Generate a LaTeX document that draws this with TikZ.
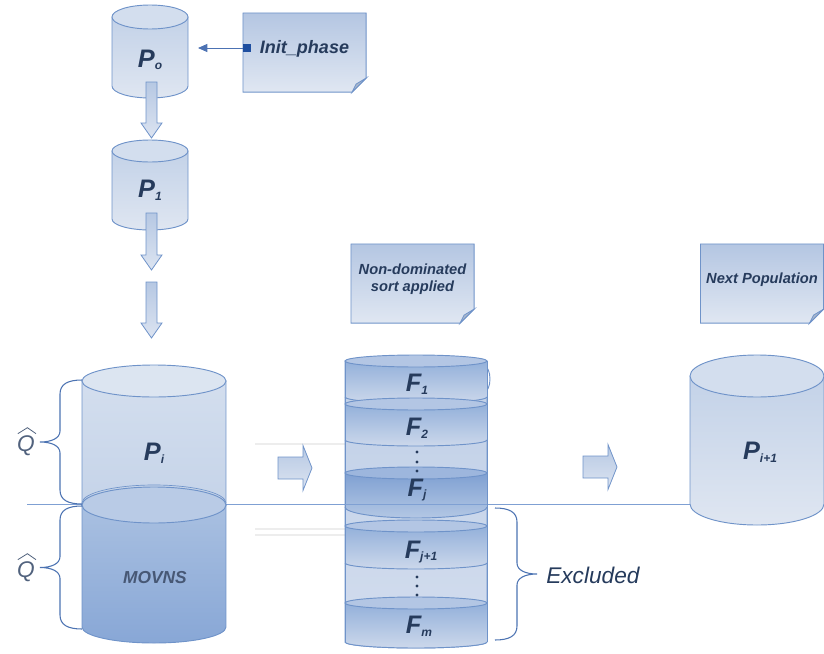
\documentclass[tikz,border=0pt]{standalone}
\usepackage{amsmath}
\usepackage{fontspec}
\setmainfont{Liberation Sans}
\usetikzlibrary{calc,arrows.meta}

\definecolor{edgeblue}{HTML}{6F93C9}
\definecolor{inkblue}{HTML}{263B5C}
\definecolor{lineblue}{HTML}{7FA0D3}
\definecolor{markblue}{HTML}{1F4FA0}
\definecolor{braceblue}{HTML}{4C73B2}
\definecolor{cylA}{HTML}{C3D2E8}
\definecolor{cylB}{HTML}{DFE6F1}
\definecolor{cylE}{HTML}{D3DEEE}
\definecolor{movA}{HTML}{A9C0E1}
\definecolor{movB}{HTML}{88A7D6}
\definecolor{movE}{HTML}{B9CBE6}
\definecolor{colA}{HTML}{BFCFE7}
\definecolor{colB}{HTML}{D3DDEE}
\definecolor{bandA}{HTML}{93B0DA}
\definecolor{bandB}{HTML}{CCD8EB}
\definecolor{bandE}{HTML}{B3C6E4}
\definecolor{darkA}{HTML}{7FA0D2}
\definecolor{darkB}{HTML}{B3C7E4}
\definecolor{darkE}{HTML}{9DB6DD}
\definecolor{arrA}{HTML}{B6C8E3}
\definecolor{arrB}{HTML}{DCE4F1}
\definecolor{noteA}{HTML}{B4C6E2}
\definecolor{noteB}{HTML}{E0E7F2}
\definecolor{foldgray}{HTML}{A9B7CC}

\newcommand{\sub}[1]{\raisebox{-0.2ex}{\fontsize{9}{9}\selectfont #1}}

% x, top y, bottom y, x radius, y radius, top colour, bottom colour, lid colour
\newcommand{\cyl}[8]{%
  \shade[top color=#6,bottom color=#7,draw=edgeblue,line width=0.7pt]
    ({#1-#4},#2) -- ({#1-#4},#3) arc (180:360:#4 and #5) -- ({#1+#4},#2) -- cycle;
  \draw[edgeblue,line width=0.7pt,fill=#8] (#1,#2) ellipse (#4 and #5);}

% x, top y, tip y
\newcommand{\darr}[3]{%
  \shade[top color=arrA,bottom color=arrB,draw=edgeblue,line width=0.6pt]
    ({#1-5.5},#2) -- ({#1-5.5},{#3+15}) -- ({#1-10.5},{#3+15}) -- (#1,#3)
    -- ({#1+10.5},{#3+15}) -- ({#1+5.5},{#3+15}) -- ({#1+5.5},#2) -- cycle;}

% left x, y, tip x
\newcommand{\rarr}[3]{%
  \shade[top color=arrA,bottom color=arrB,draw=edgeblue,line width=0.6pt]
    (#1,{#2+11}) -- ({#3-9},{#2+11}) -- ({#3-9},{#2+22.5}) -- (#3,#2)
    -- ({#3-9},{#2-22.5}) -- ({#3-9},{#2-11}) -- (#1,{#2-11}) -- cycle;}

% paper with folded corner round a node
\newcommand{\paper}[1]{%
  \shade[top color=noteA,bottom color=noteB,draw=edgeblue,line width=0.6pt]
    (#1.north west) -- (#1.north east) -- ($(#1.south east)+(0,14)$)
    -- ($(#1.south east)+(-14,0)$) -- (#1.south west) -- cycle;
  \filldraw[fill=foldgray,draw=edgeblue,line width=0.6pt]
    ($(#1.south east)+(0,14)$) -- ($(#1.south east)+(-10,8)$) -- ($(#1.south east)+(-14,0)$) -- cycle;}

% end x, top y, bottom y, side (1: tip to the left, -1: tip to the right)
\newcommand{\bracket}[4]{%
  \draw[braceblue,line width=0.8pt]
    (#1,#2) .. controls ({#1-14*#4},#2) and ({#1-22*#4},{#2-4}) .. ({#1-22*#4},{#2-14})
    -- ({#1-22*#4},{(#2+#3)/2+11})
    .. controls ({#1-22*#4},{(#2+#3)/2+4}) and ({#1-30*#4},{(#2+#3)/2}) .. ({#1-42*#4},{(#2+#3)/2})
    .. controls ({#1-30*#4},{(#2+#3)/2}) and ({#1-22*#4},{(#2+#3)/2-4}) .. ({#1-22*#4},{(#2+#3)/2-11})
    -- ({#1-22*#4},{#3+14})
    .. controls ({#1-22*#4},{#3+4}) and ({#1-14*#4},#3) .. (#1,#3);}

\begin{document}
\begin{tikzpicture}[x=0.75pt,y=0.75pt,
  lbl/.style={font=\fontsize{19}{21}\selectfont\bfseries\itshape,text=inkblue,inner sep=0},
  notetxt/.style={font=\fontsize{11}{12.75}\selectfont\bfseries\itshape,text=inkblue,align=center,inner sep=0},
  paperbox/.style={minimum width=92pt,minimum height=59pt,inner sep=0},
  qlbl/.style={text=inkblue!80!white,anchor=east,inner sep=0,font=\fontsize{17}{19}\selectfont\itshape},
  hat/.style={inkblue!80!white,line width=0.6pt}]

\useasboundingbox (0,0) rectangle (824,-653);

% dividing line and faint rules
\draw[lineblue,line width=0.7pt] (27,-504) -- (690,-504);
\draw[black!7,line width=0.8pt] (255,-444) -- (345,-444) (255,-529) -- (345,-529) (255,-535) -- (345,-535);

% small cylinders
\cyl{150}{-17}{-86}{38}{12}{cylA}{cylB}{cylE}
\cyl{150}{-151}{-219}{38}{11}{cylA}{cylB}{cylE}
\node[lbl] (p0) at (150,-60) {P\sub{o}};
\node[lbl] (p1) at (150,-190) {P\sub{1}};

\darr{151.5}{-82}{-138}
\darr{151.5}{-213}{-270}
\darr{151.5}{-282}{-338}

% init phase
\node[paperbox] (init) at (304.5,-52.5) {};
\paper{init}
\node[notetxt,font=\fontsize{13.5}{15}\selectfont\bfseries\itshape] (inittxt) at ($(init)+(0,4)$) {Init\_phase};
\node[fill=markblue,minimum size=6pt,inner sep=0] (sq) at (247,-48) {};
\coordinate (p0in) at (198,-48);
\draw[markblue!80!white,line width=0.7pt,-{Triangle[length=7pt,width=6pt]}] (sq.west) -- (p0in);

% current population
\shade[top color=cylE,bottom color=cylA,draw=edgeblue,line width=0.7pt]
  (82,-381) -- (82,-505) arc (180:360:72 and 18) -- (226,-381) -- cycle;
\shade[top color=movA,bottom color=movB,draw=edgeblue,line width=0.7pt]
  (82,-505) -- (82,-627) arc (180:360:72 and 16) -- (226,-505) -- cycle;
\draw[edgeblue,line width=0.7pt,fill=movE] (154,-505) ellipse (72 and 18);
\draw[edgeblue,line width=0.5pt] (82,-503) arc (180:0:72 and 18);
\draw[edgeblue,line width=0.7pt,fill=cylE!80!white] (154,-381) ellipse (72 and 16);
\node[lbl] (pI) at (154,-453) {P\sub{i}};
\node[lbl,font=\fontsize{13}{15}\selectfont\bfseries\itshape,text=inkblue!85!white] (movns) at (155,-578) {MOVNS};

\bracket{82}{-380}{-504}{1}
\bracket{82}{-506}{-629}{1}
\node[qlbl] (qa) at (35,-446) {Q};
\node[qlbl] (qb) at (35,-572) {Q};
\draw[hat] ($(qa.north west)+(1,2)$) -- ($(qa.north)+(1.5,8)$) -- ($(qa.north east)+(1,2)$);
\draw[hat] ($(qb.north west)+(1,2)$) -- ($(qb.north)+(1.5,8)$) -- ($(qb.north east)+(1,2)$);

\rarr{278}{-468}{312}

% sorted fronts
\node[paperbox] (nds) at (412.5,-283.5) {};
\paper{nds}
\node[notetxt] (ndstxt) at ($(nds)+(0,4)$) {Non-dominated\\sort applied};

\shade[top color=colA,bottom color=colB,draw=edgeblue,line width=0.7pt]
  (345,-361) -- (345,-642) arc (180:360:71 and 6) -- (487,-361) -- cycle;
\draw[edgeblue,line width=0.7pt] (484,-366) arc (90:-90:6 and 13);
\foreach \ya/\yb in {-361/-397,-404/-440,-526/-563,-603/-642}{
  \shade[top color=bandA,bottom color=bandB] (345,\ya) -- (345,\yb) arc (180:360:71 and 6) -- (487,\ya) -- cycle;
  \draw[edgeblue,line width=0.7pt] (345,\yb) arc (180:360:71 and 6);
  \draw[edgeblue,line width=0.7pt,fill=bandE] (416,\ya) ellipse (71 and 6);
}
\shade[top color=darkA,bottom color=darkB] (345,-473) -- (345,-507) arc (180:360:71 and 11) -- (487,-473) -- cycle;
\draw[edgeblue,line width=0.7pt] (345,-507) arc (180:360:71 and 11);
\draw[edgeblue,line width=0.7pt,fill=darkE] (416,-473) ellipse (71 and 6);
\draw[edgeblue,line width=0.7pt] (345,-361) -- (345,-642) (487,-361) -- (487,-642);
\draw[lineblue,line width=0.7pt] (345,-504) -- (487,-504);

\node[lbl] (f1) at (417,-384) {F\sub{1}};
\node[lbl] (f2) at (417,-428) {F\sub{2}};
\node[lbl] (fj) at (417,-490) {F\sub{j}};
\node[lbl] (fjj) at (421,-552) {F\sub{j+1}};
\node[lbl] (fm) at (419,-626) {F\sub{m}};
\foreach \yd in {-452,-462,-471,-577,-586,-595}
  \fill[inkblue] (417,\yd) circle (1.6);

\bracket{495}{-508}{-640}{-1}
\node[anchor=west,inner sep=0,text=inkblue,font=\fontsize{17}{19}\selectfont\itshape] (excl) at (546,-575) {Excluded};

\rarr{583}{-467}{617}

% next population
\node[paperbox] (nextpop) at (762,-283.5) {};
\paper{nextpop}
\node[notetxt] (nexttxt) at ($(nextpop)+(0,4)$) {Next Population};

\cyl{757}{-376}{-504}{67}{21}{cylA}{cylB}{cylE}
\node[lbl] (pnext) at (760,-452) {P\sub{i+1}};

\end{tikzpicture}
\end{document}
